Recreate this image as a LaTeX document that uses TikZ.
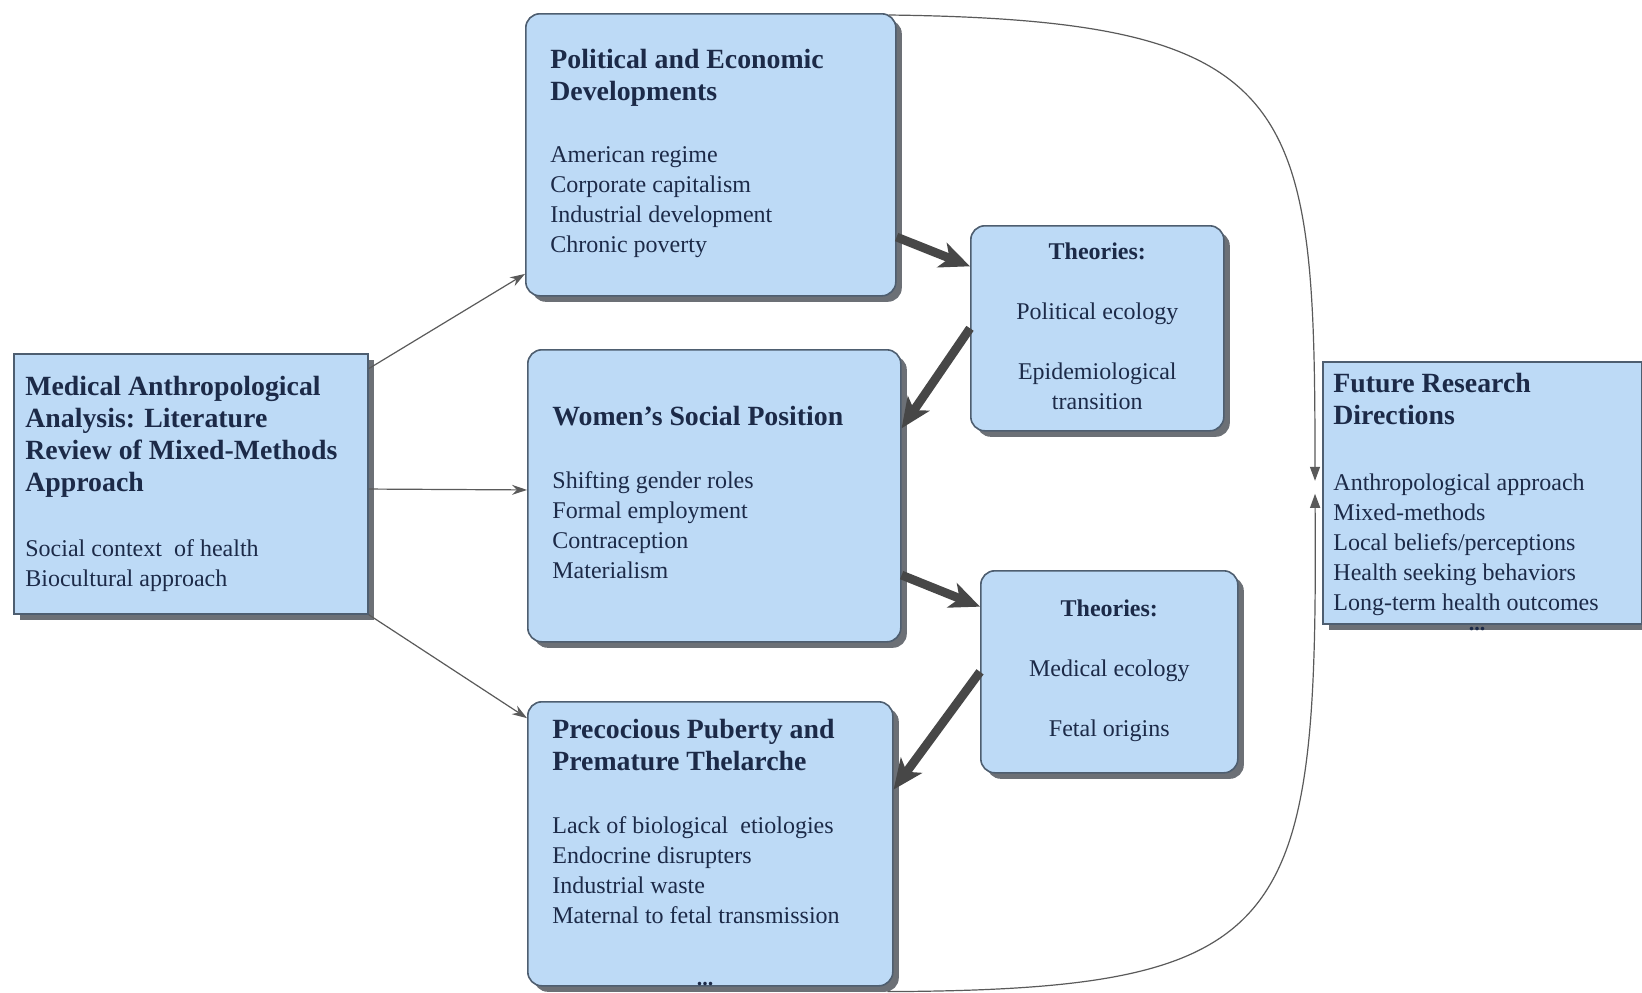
\documentclass[tikz,border=0pt]{standalone}
\usepackage{fontspec}
\setmainfont{Liberation Serif}
\usepackage{xcolor}
\definecolor{boxfill}{HTML}{BDDAF6}
\definecolor{boxline}{HTML}{4E5E70}
\definecolor{shade}{HTML}{6C7076}
\definecolor{ink}{HTML}{1C2A48}
\definecolor{heavy}{HTML}{474747}
\definecolor{thin}{HTML}{5A5A5A}
\usetikzlibrary{arrows.meta,calc,shadows}
\tikzset{
  box/.style={draw=boxline,line width=0.8pt,fill=boxfill,anchor=north west,inner sep=0pt,
    drop shadow={shadow xshift=3pt,shadow yshift=-3pt,fill=shade,opacity=1}},
  rbox/.style={box,rounded corners=7pt},
  % multi-line nodes sit on the baseline of their last line
  ttl/.style={anchor=base west,inner sep=0pt,text=ink,align=left,font=\fontsize{13.9}{16}\selectfont\bfseries},
  txt/.style={anchor=base west,inner sep=0pt,text=ink,align=left,font=\fontsize{12}{15}\selectfont},
  thy/.style={anchor=base,inner sep=0pt,text=ink,align=center,font=\fontsize{12}{15}\selectfont},
  more/.style={inner sep=0pt,text=ink,font=\fontsize{11}{11}\selectfont\bfseries},
  arr/.style={-{Stealth[length=7.5pt,width=5pt]},draw=thin,line width=0.6pt},
  fat/.style={-{Stealth[length=15pt,width=13pt,inset=4pt]},draw=heavy,line width=4.4pt},
  curv/.style={-{Triangle[length=7pt,width=5pt]},draw=thin,line width=0.6pt},
}
\begin{document}
\begin{tikzpicture}[x=0.5pt,y=-0.5pt]
\path[use as bounding box,fill=white] (0,0) rectangle (1642,992);
% boxes
\node[box,minimum width=177pt,minimum height=130pt] (mma) at (13,353) {};
\node[rbox,minimum width=185pt,minimum height=141pt] (ped) at (525,13) {};
\node[rbox,minimum width=126.5pt,minimum height=102.5pt] (th1) at (970,225) {};
\node[rbox,minimum width=186.5pt,minimum height=146pt] (wsp) at (527,349) {};
\node[rbox,minimum width=128.5pt,minimum height=101pt] (th2) at (980,570) {};
\node[rbox,minimum width=182.5pt,minimum height=142pt] (ppt) at (527,701) {};
\node[box,minimum width=159.5pt,minimum height=131pt] (frd) at (1322,361) {};
% texts
\node[ttl] (mma-t) at ([shift={(12,138)}]mma.north west) {Medical Anthropological\\Analysis: Literature\\Review of Mixed-Methods\\Approach};
\node[txt] (mma-b) at ([shift={(12,233)}]mma.north west) {Social context \ of health\\Biocultural approach};
\node[ttl] (ped-t) at ([shift={(25,87)}]ped.north west) {Political and Economic\\Developments};
\node[txt] (ped-b) at ([shift={(25,239)}]ped.north west) {American regime\\Corporate capitalism\\Industrial development\\Chronic poverty};
\node[ttl] (wsp-t) at ([shift={(25,76)}]wsp.north west) {Women's Social Position};
\node[txt] (wsp-b) at ([shift={(25,229)}]wsp.north west) {Shifting gender roles\\Formal employment\\Contraception\\Materialism};
\node[ttl] (ppt-t) at ([shift={(25,69)}]ppt.north west) {Precocious Puberty and\\Premature Thelarche};
\node[txt] (ppt-b) at ([shift={(25,222)}]ppt.north west) {Lack of biological \ etiologies\\Endocrine disrupters\\Industrial waste\\Maternal to fetal transmission};
\node[more] (ppt-m) at ([shift={(178,-3)}]ppt.south west) {...};
\node[ttl] (frd-t) at ([shift={(11,63)}]frd.north west) {Future Research\\Directions};
\node[txt] (frd-b) at ([shift={(11,249)}]frd.north west) {Anthropological approach\\Mixed-methods\\Local beliefs/perceptions\\Health seeking behaviors\\Long-term health outcomes};
\node[more] (frd-m) at ([shift={(155,4)}]frd.south west) {...};
\node[thy] (th1-t) at ([shift={(0,184)}]th1.north) {\textbf{Theories:}\\[15pt]Political ecology\\[15pt]Epidemiological\\transition};
\node[thy] (th2-t) at ([shift={(0,166)}]th2.north) {\textbf{Theories:}\\[15pt]Medical ecology\\[15pt]Fetal origins};
% connectors
\draw[arr] ($(mma.north east)!.06!(mma.south east)$) -- ($(ped.north west)!.92!(ped.south west)$);
\draw[arr] ($(mma.north east)!.52!(mma.south east)$) -- ($(wsp.north west)!.48!(wsp.south west)$);
\draw[arr] (mma.south east) -- ($(ppt.north west)!.06!(ppt.south west)$);
\draw[fat] ($(ped.north east)!.79!(ped.south east)$) -- ($(th1.north west)!.2!(th1.south west)$);
\draw[fat] (th1.west) -- ($(wsp.north east)!.27!(wsp.south east)$);
\draw[fat] ($(wsp.north east)!.77!(wsp.south east)$) -- ($(th2.north west)!.18!(th2.south west)$);
\draw[fat] (th2.west) -- ($(ppt.north east)!.31!(ppt.south east)$);
\draw[curv] ([shift={(-8,2)}]ped.north east) .. controls +(413,5) and +(0,-380) .. ([shift={(-7,-12)}]frd.west);
\draw[curv] ([shift={(-6,5)}]ppt.south east) .. controls +(404,-2) and +(3,437) .. ([shift={(-7,1)}]frd.west);
\end{tikzpicture}
\end{document}
